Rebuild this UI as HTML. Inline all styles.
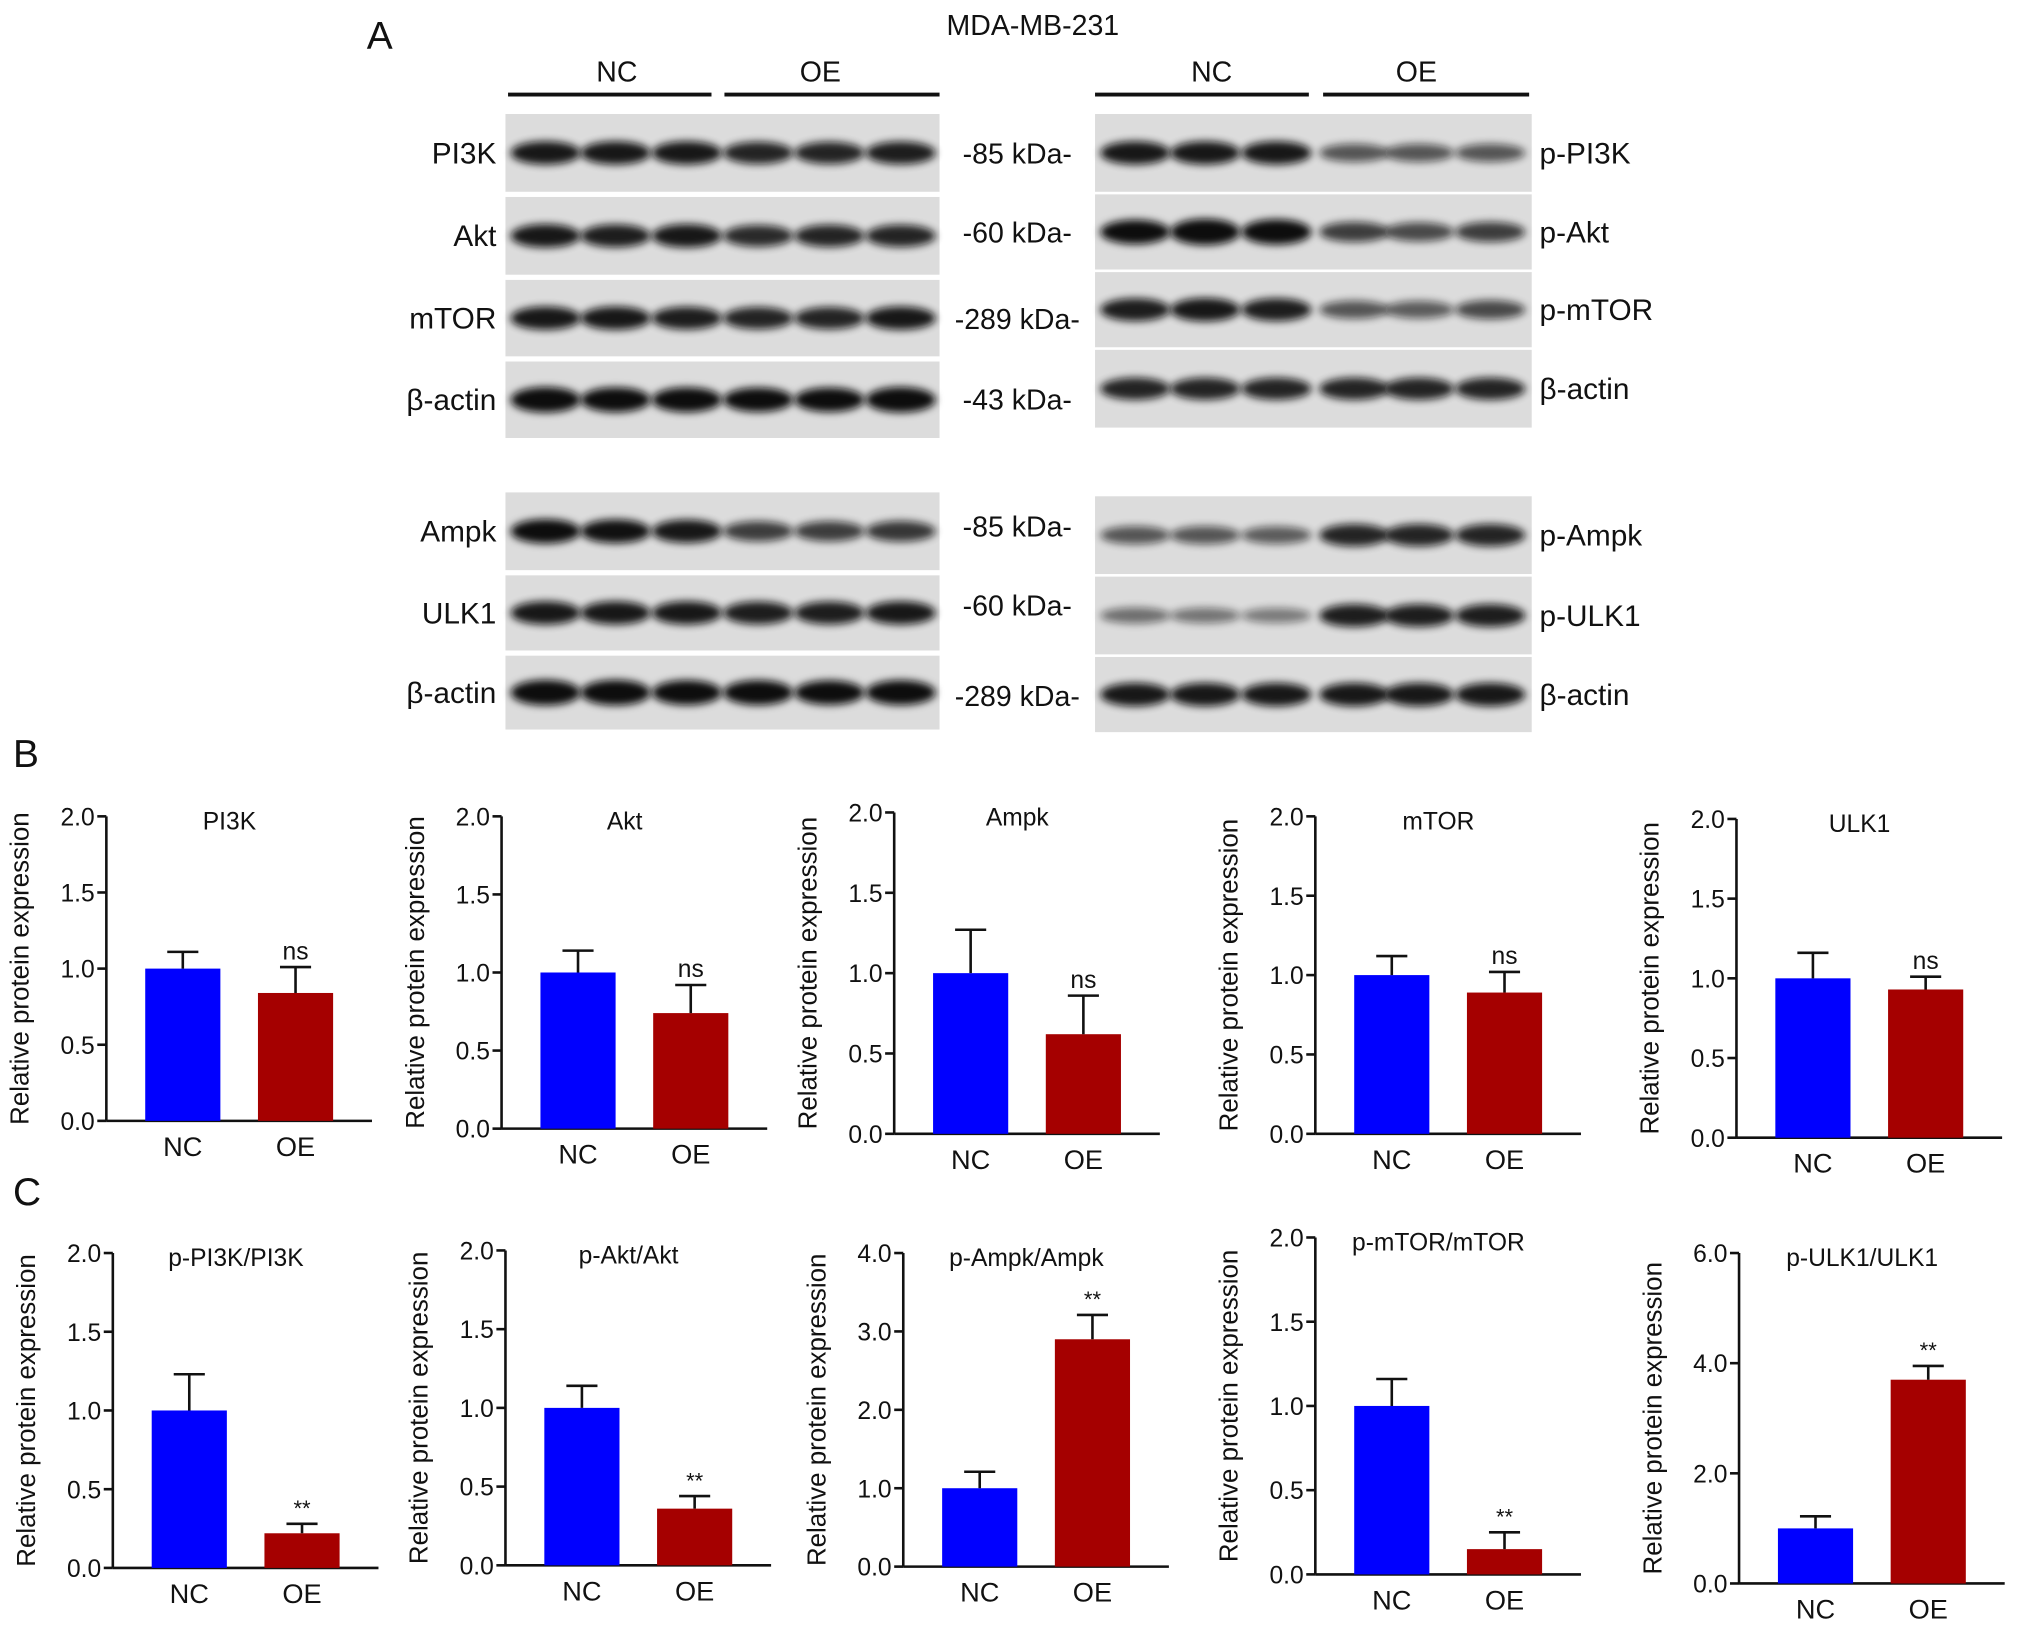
<!DOCTYPE html>
<html><head><meta charset="utf-8"><style>
html,body{margin:0;padding:0;background:#fff}
svg{display:block}
text{font-family:"Liberation Sans",Arial,sans-serif;fill:#111}
</style></head><body>
<svg id="fig" width="2032" height="1634" viewBox="0 0 1568 1261" xmlns="http://www.w3.org/2000/svg">
<defs><filter id="blur" x="-20%" y="-50%" width="140%" height="200%"><feGaussianBlur stdDeviation="3"/></filter></defs>
<g id="blots"></g>
<g id="charts"></g>
</svg>
<script>
// ---------- Chart data ----------
const categories = ["NC","OE"];
const titlesB = ["PI3K","Akt","Ampk","mTOR","ULK1"];
const meansB_NC = [1.0,1.0,1.0,1.0,1.0];
const meansB_OE = [0.84,0.74,0.62,0.89,0.93];
const errB_NC = [0.11,0.14,0.27,0.12,0.16];
const errB_OE = [0.17,0.18,0.24,0.13,0.08];
const sigB = ["ns","ns","ns","ns","ns"];
const titlesC = ["p-PI3K/PI3K","p-Akt/Akt","p-Ampk/Ampk","p-mTOR/mTOR","p-ULK1/ULK1"];
const meansC_NC = [1.0,1.0,1.0,1.0,1.0];
const meansC_OE = [0.22,0.36,2.9,0.15,3.7];
const errC_NC = [0.23,0.14,0.21,0.16,0.22];
const errC_OE = [0.06,0.08,0.31,0.1,0.25];
const sigC = ["**","**","**","**","**"];
const ticksB = ["0.0","0.5","1.0","1.5","2.0"];
const ticksC = [["0.0","0.5","1.0","1.5","2.0"],["0.0","0.5","1.0","1.5","2.0"],["0.0","1.0","2.0","3.0","4.0"],["0.0","0.5","1.0","1.5","2.0"],["0.0","2.0","4.0","6.0"]];

const NS="http://www.w3.org/2000/svg";
function mk(tag,attrs,parent,txt){const e=document.createElementNS(NS,tag);for(const k in attrs)e.setAttribute(k,attrs[k]);if(txt!==undefined)e.textContent=txt;parent.appendChild(e);return e;}

// ---------- Blots ----------
const B=document.getElementById('blots');
let t=mk('text',{x:283,y:38,'font-size':30},B,'A');

t=mk('text',{x:797,y:27,'font-size':22,'text-anchor':'middle'},B,'MDA-MB-231');

const groups=[[476,392,549,'NC'],[633,559,725,'OE'],[935,845,1010,'NC'],[1093,1021,1180,'OE']];
groups.forEach(g=>{
  t=mk('text',{x:g[0],y:63,'font-size':22,'text-anchor':'middle'},B,g[3]);
  
  const l=mk('line',{x1:g[1],x2:g[2],y1:73,y2:73,stroke:'#111','stroke-width':3},B);
  
});
const lanesL=[421,475,530,585,640,695], lanesR=[876,930,985,1045,1095,1150];
const blotRows=[
 [390,725,88,148,'PI3K','l',[1,1,1,.9,.9,.95]],
 [390,725,152,212,'Akt','l',[1,.95,1,.85,.9,.9]],
 [390,725,216,275,'mTOR','l',[1,1,.95,.9,.9,1]],
 [390,725,279,338,'β-actin','l',[1.2,1.15,1.15,1.1,1.1,1.2]],
 [390,725,380,440,'Ampk','l',[1.1,1.05,1,.7,.7,.75]],
 [390,725,444,502,'ULK1','l',[1,1,1,.95,.95,1]],
 [390,725,506,563,'β-actin','l',[1.2,1.2,1.15,1.15,1.1,1.15]],
 [845,1182,88,148,'p-PI3K','r',[1,1,1,.5,.5,.5]],
 [845,1182,150,208,'p-Akt','r',[1.1,1.3,1.2,.7,.6,.7]],
 [845,1182,210,268,'p-mTOR','r',[.95,1,.95,.5,.45,.6]],
 [845,1182,270,330,'β-actin','r',[.9,.9,.9,.9,.9,.9]],
 [845,1182,383,443,'p-Ampk','r',[.5,.5,.45,.9,.9,.9]],
 [845,1182,445,505,'p-ULK1','r',[.3,.25,.2,.95,.95,.95]],
 [845,1182,507,565,'β-actin','r',[1,1,1,1,1,1]]
];
const kda=[['-85 kDa-',126],['-60 kDa-',187],['-289 kDa-',254],['-43 kDa-',316],['-85 kDa-',414],['-60 kDa-',475],['-289 kDa-',545]];
blotRows.forEach(r=>{
  const g=mk('g',{},B);
  
  
  mk('rect',{x:r[0],y:r[2],width:r[1]-r[0],height:r[3]-r[2],fill:'#dcdcdc'},g);
  const cy=(r[2]+r[3])/2, lanes=r[5]==='l'?lanesL:lanesR;
  lanes.forEach((cx,i)=>{
    const v=r[6][i];
    mk('ellipse',{cx:cx,cy:cy,rx:27,ry:5+4*v,fill:'#111',opacity:Math.min(1,.35+.6*v),filter:'url(#blur)'},g);
  });
  const tx=r[5]==='l'?383:1188, anc=r[5]==='l'?'end':'start';
  mk('text',{x:tx,y:cy+8,'font-size':23,'text-anchor':anc},g,r[4]);
});
kda.forEach(k=>{t=mk('text',{x:785,y:k[1],'font-size':22,'text-anchor':'middle'},B,k[0]);
 });

// ---------- Charts ----------
const C=document.getElementById('charts');
t=mk('text',{x:10,y:592,'font-size':30},C,'B');
t=mk('text',{x:10,y:930,'font-size':30},C,'C');

const layoutB=[[82,630,865],[387,630,871],[690,627,875],[1015,630,875],[1340,632,878]];
const layoutC=[[87,967,1210],[390,965,1208],[697,967,1209],[1015,955,1215],[1342,967,1222]];

function chart(L,title,nc,oe,enc,eoe,sig,ticks,id){
  const [ax,yTop,yBot]=L;
  const max=parseFloat(ticks[ticks.length-1]);
  const y=v=>yBot-(v/max)*(yBot-yTop);
  const bw=58, xNC=ax+30, xOE=ax+117;
  const g=mk('g',{},C);
  
  const ya=mk('line',{x1:ax,x2:ax,y1:yTop,y2:yBot,stroke:'#111','stroke-width':2},g);
  
  const xa=mk('line',{x1:ax,x2:ax+205,y1:yBot,y2:yBot,stroke:'#111','stroke-width':2},g);
  
  ticks.forEach(tk=>{
    const yy=y(parseFloat(tk));
    mk('line',{x1:ax-7,x2:ax,y1:yy,y2:yy,stroke:'#111','stroke-width':2},g);
    const tl=mk('text',{x:ax-9,y:yy+7,'font-size':19,'text-anchor':'end'},g,tk);
    
  });
  const yl=mk('text',{x:0,y:0,'font-size':20,'text-anchor':'middle',transform:`translate(${ax-60},${(yTop+yBot)/2}) rotate(-90)`},g,'Relative protein expression');
  
  const tt=mk('text',{x:ax+95,y:yTop+10,'font-size':19,'text-anchor':'middle'},g,title);
  
  [[xNC,nc,enc,'#0000ff','bar-nc',categories[0]],[xOE,oe,eoe,'#a50000','bar-oe',categories[1]]].forEach(b=>{
    const [x,v,e,col,name,cat]=b;
    const r=mk('rect',{x:x,y:y(v),width:bw,height:yBot-y(v),fill:col},g);
    
    const cx=x+bw/2;
    const eb=mk('path',{d:`M${cx},${y(v)}V${y(v+e)}M${cx-12},${y(v+e)}H${cx+12}`,stroke:'#111','stroke-width':2,fill:'none'},g);
    
    const xl=mk('text',{x:cx,y:yBot+27,'font-size':21,'text-anchor':'middle'},g,cat);
    
  });
  const cxo=xOE+bw/2;
  const s=mk('text',{x:cxo,y:y(oe+eoe)-6,'font-size':sig==='ns'?19:17,'text-anchor':'middle'},g,sig);
  
}
for(let i=0;i<5;i++){
  chart(layoutB[i],titlesB[i],meansB_NC[i],meansB_OE[i],errB_NC[i],errB_OE[i],sigB[i],ticksB,'b-'+titlesB[i].toLowerCase());
  chart(layoutC[i],titlesC[i],meansC_NC[i],meansC_OE[i],errC_NC[i],errC_OE[i],sigC[i],ticksC[i],'c-'+titlesC[i].toLowerCase().replace('/','-'));
}
</script>
</body></html>
